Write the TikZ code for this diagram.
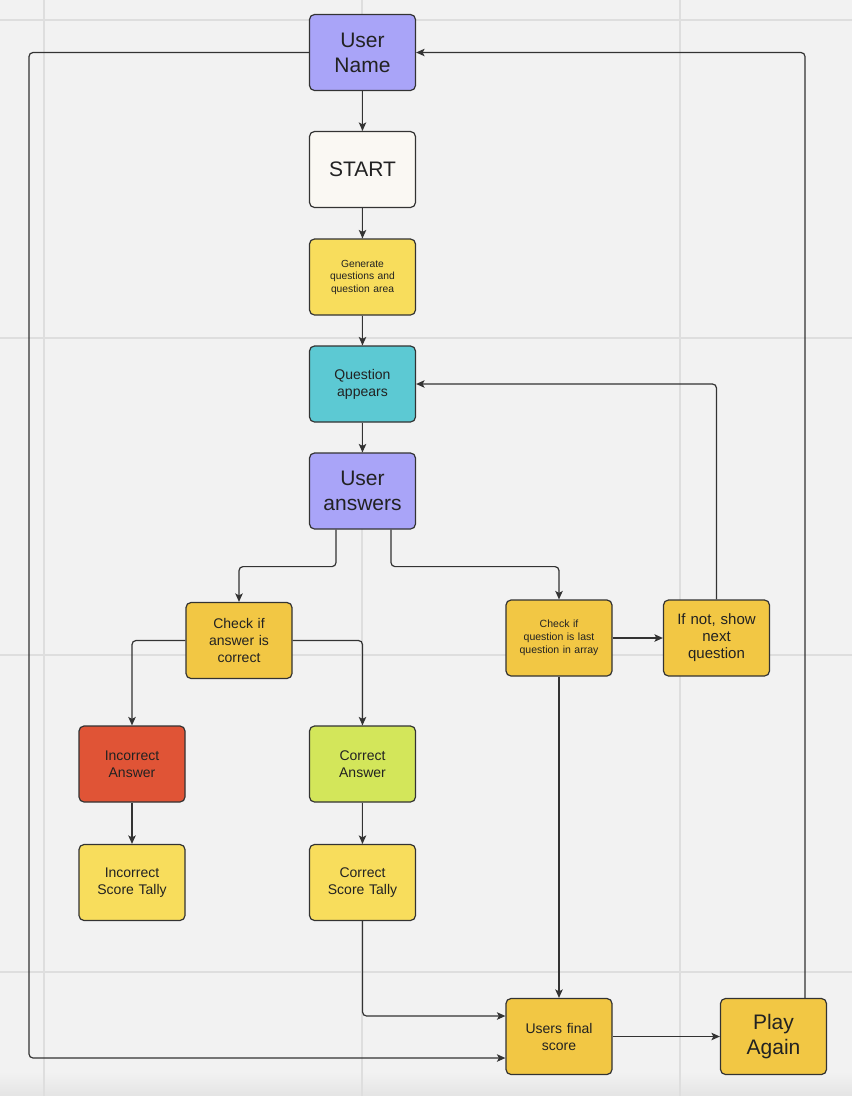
\documentclass[tikz,border=0pt]{standalone}
\usepackage{fontspec}
\setmainfont{Liberation Sans}
\usetikzlibrary{arrows.meta,calc}

\definecolor{bgcol}{HTML}{F2F2F2}
\definecolor{gridcol}{HTML}{DEDEDE}
\definecolor{edgecol}{HTML}{333333}
\definecolor{txtcol}{HTML}{222222}
\definecolor{purplefill}{HTML}{A9A4F8}
\definecolor{creamfill}{HTML}{FAF8F3}
\definecolor{yellowfill}{HTML}{F8DD5C}
\definecolor{tealfill}{HTML}{5CC9D3}
\definecolor{amberfill}{HTML}{F2C744}
\definecolor{redfill}{HTML}{E05436}
\definecolor{limefill}{HTML}{D3E65A}

\tikzset{
  box/.style={draw=edgecol, line width=1.2pt, rounded corners=5pt,
    minimum width=106pt, minimum height=76pt, inner sep=2pt,
    align=center, text=txtcol, text width=98pt},
  bigtxt/.style={font=\fontsize{21}{25}\selectfont},
  midtxt/.style={font=\fontsize{14}{17}\selectfont},
  smalltxt/.style={font=\fontsize{10.3}{12.5}\selectfont},
  conn/.style={draw=edgecol, line width=1.2pt, rounded corners=4pt,
    -{Stealth[length=8.5pt,width=7.5pt,inset=2pt]}},
  gridline/.style={draw=gridcol, line width=1.6pt}
}

\begin{document}
\begin{tikzpicture}[x=1pt,y=-1pt]
  % canvas and board grid
  \fill[bgcol] (0,0) rectangle (852,1096);
  \shade[top color=bgcol, bottom color={rgb,255:red,228;green,228;blue,228}]
    (0,1072) rectangle (852,1096);
  \useasboundingbox (0,0) rectangle (852,1096);
  \foreach \gx in {44,362,680} \draw[gridline] (\gx,0) -- (\gx,1096);
  \foreach \gy in {20,338,655,972} \draw[gridline] (0,\gy) -- (852,\gy);

  % boxes
  \node[box, bigtxt, fill=purplefill] (un) at (362.5,52.5) {User\\Name};
  \node[box, bigtxt, fill=creamfill] (st) at (362.5,169.5) {START};
  \node[box, smalltxt, fill=yellowfill] (gq) at (362.5,277) {Generate\\questions and\\question area};
  \node[box, midtxt, fill=tealfill] (qa) at (362.5,384) {Question\\appears};
  \node[box, bigtxt, fill=purplefill] (ua) at (362.5,491) {User\\answers};
  \node[box, midtxt, fill=amberfill] (ca) at (239,640.5) {Check if\\answer is\\correct};
  \node[box, font=\fontsize{10.5}{13}\selectfont, fill=amberfill] (cq) at (559,638) {Check if\\question is last\\question in array};
  \node[box, font=\fontsize{15}{17}\selectfont, fill=amberfill] (iq) at (716.5,638) {If not, show\\next\\question};
  \node[box, midtxt, fill=redfill] (ia) at (132,764) {Incorrect\\Answer};
  \node[box, midtxt, fill=limefill] (cr) at (362.5,764) {Correct\\Answer};
  \node[box, midtxt, fill=yellowfill] (it) at (132,882.5) {Incorrect\\Score Tally};
  \node[box, midtxt, fill=yellowfill] (ct) at (362.5,882.5) {Correct\\Score Tally};
  \node[box, midtxt, fill=amberfill] (fs) at (559,1036.5) {Users final\\score};
  \node[box, bigtxt, fill=amberfill] (pa) at (773.5,1036.5) {Play\\Again};

  \coordinate (leftrail) at (29,52.5);

  % main flow
  \draw[conn] (un) -- (st);
  \draw[conn] (st) -- (gq);
  \draw[conn] (gq) -- (qa);
  \draw[conn] (qa) -- (ua);
  \draw[conn] ([xshift=-26.5pt]ua.south) -- ++(0,37) -| (ca.north);
  \draw[conn] ([xshift=28.5pt]ua.south) -- ++(0,37) -| (cq.north);
  \draw[conn] (ca.west) -| (ia.north);
  \draw[conn] (ca.east) -| (cr.north);
  \draw[conn] (ia) -- (it);
  \draw[conn] (cr) -- (ct);
  \draw[conn] (ct.south) |- ([yshift=20.5pt]fs.west);
  \draw[conn] (cq.east) -- (iq.west);
  \draw[conn] (cq.south) -- (fs.north);
  \draw[conn] (iq.north) |- (qa.east);
  \draw[conn] (fs.east) -- (pa.west);
  \draw[conn] ([xshift=31.5pt]pa.north) |- (un.east);
  \draw[conn] (un.west) -- (leftrail) |- ([yshift=-21.5pt]fs.west);
\end{tikzpicture}
\end{document}
